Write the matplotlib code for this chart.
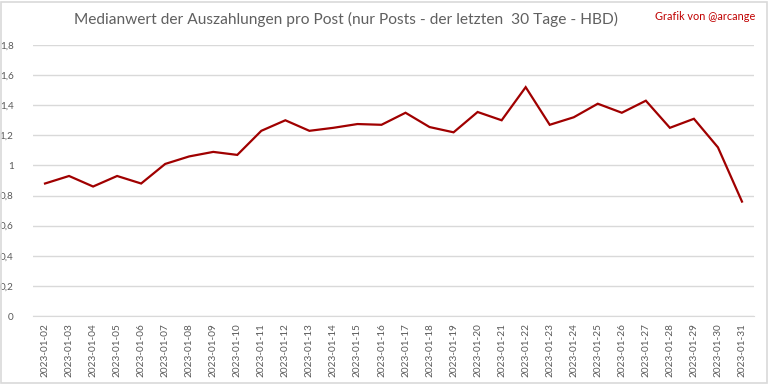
import matplotlib
matplotlib.use("Agg")
import matplotlib.pyplot as plt
from matplotlib.patches import Rectangle

dates = ["2023-01-%02d" % d for d in range(2, 32)]
values = [0.88, 0.93, 0.86, 0.93, 0.88, 1.01, 1.06, 1.09, 1.07, 1.23,
          1.30, 1.23, 1.25, 1.275, 1.27, 1.35, 1.255, 1.22, 1.355, 1.30,
          1.52, 1.27, 1.32, 1.41, 1.35, 1.43, 1.25, 1.31, 1.12, 0.76]
yticks = [0, 0.2, 0.4, 0.6, 0.8, 1.0, 1.2, 1.4, 1.6, 1.8]
ytick_labels = ["0", "0,2", "0,4", "0,6", "0,8", "1", "1,2", "1,4", "1,6", "1,8"]

plt.rcParams['font.family'] = ['Lato', 'DejaVu Sans']

fig = plt.figure(figsize=(7.68, 3.84), dpi=100)
ax = fig.add_axes([33/768, 1-316/384, (754-33)/768, (316-45)/384])

x = list(range(len(dates)))
ax.plot(x, values, color="#A00000", lw=1.6, solid_joinstyle="miter")
ax.set_xlim(-0.5, len(dates)-0.5)
ax.set_ylim(0, 1.8)
ax.set_yticks(yticks)
ax.set_yticklabels(ytick_labels)
ax.set_xticks(x)
ax.set_xticklabels(dates, rotation=90)
ax.grid(axis="y", color="#D9D9D9", lw=1)
ax.set_axisbelow(True)
for s in ["top", "right", "left"]:
    ax.spines[s].set_visible(False)
ax.spines["bottom"].set_color("#D9D9D9")
ax.tick_params(axis="both", length=0, colors="#595959", labelsize=7.2)
ax.tick_params(axis="y", pad=14)
ax.tick_params(axis="x", pad=5)
for lab in ax.get_yticklabels():
    lab.set_horizontalalignment("right")

fig.text(346/768, 1-19/384, "Medianwert der Auszahlungen pro Post (nur Posts - der letzten  30 Tage - HBD)",
         ha="center", va="center", fontsize=11.2, color="#606060")
fig.text(755/768, 1-16/384, "Grafik von @arcange", ha="right", va="center",
         fontsize=7.8, color="#C00000")

fig.patches.append(Rectangle((0.5/768, 1.5/384), 766/768, 381/384, transform=fig.transFigure,
                             fill=False, edgecolor="#D9D9D9", lw=1.2))
fig.savefig("out.png", dpi=100)
